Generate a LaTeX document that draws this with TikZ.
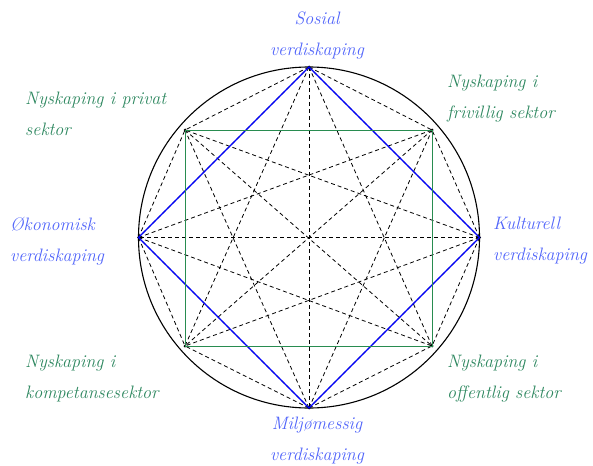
\documentclass[tikz,border=0pt]{standalone}
\usetikzlibrary{positioning}
\definecolor{verdiblue}{RGB}{80,100,250}
\definecolor{sektorgreen}{RGB}{45,135,95}
\definecolor{rammegreen}{RGB}{40,140,80}
\tikzstyle{verdi} = [text=verdiblue, font=\fontsize{18}{31}\selectfont\itshape, align=center, inner sep=0pt]
\tikzstyle{sektor} = [text=sektorgreen, font=\fontsize{18}{31}\selectfont\itshape, align=left, inner sep=0pt]
\tikzstyle{pkt} = [circle, fill=black, inner sep=0pt, minimum size=3pt]
\tikzstyle{link} = [dash pattern=on 4pt off 3pt, line width=0.8pt]

\begin{document}
\begin{tikzpicture}[x=1pt,y=-1pt]
\useasboundingbox (0,0) rectangle (593,465);

\draw [line width=1.1pt] (309,237.5) circle (170.5);

% points
\node (sos) [pkt] at (309,67) {};
\node (kul) [pkt] at (479.5,237.5) {};
\node (mil) [pkt] at (309,408) {};
\node (oko) [pkt] at (138.5,237.5) {};
\node (fri) [pkt] at (432,130) {};
\node (pri) [pkt] at (185,130) {};
\node (kom) [pkt] at (185,346) {};
\node (off) [pkt] at (432,346) {};

% all pairs dashed
\foreach \a/\b in {sos/kul,sos/mil,sos/oko,sos/fri,sos/pri,sos/kom,sos/off,
  kul/mil,kul/oko,kul/fri,kul/pri,kul/kom,kul/off,
  mil/oko,mil/fri,mil/pri,mil/kom,mil/off,
  oko/fri,oko/pri,oko/kom,oko/off,
  fri/pri,fri/kom,fri/off,
  pri/kom,pri/off,
  kom/off}
  \draw [link] (\a.center) -- (\b.center);

\draw [blue, line width=1.1pt] (sos.center) -- (kul.center) -- (mil.center) -- (oko.center) -- cycle;
\draw [rammegreen, line width=0.9pt] (pri.center) -- (fri.center) -- (off.center) -- (kom.center) -- cycle;

% labels
\node (lsos) [verdi, anchor=north] at (317,12) {Sosial\\verdiskaping};
\node (lmil) [verdi, anchor=north] at (317,417) {Miljømessig\\verdiskaping};
\node (loko) [verdi, anchor=north west, align=left] at (10,217) {Økonomisk\\verdiskaping};
\node (lkul) [verdi, anchor=north west, align=left] at (493,217) {Kulturell\\verdiskaping};
\node (lpri) [sektor, anchor=north west] at (25,92) {Nyskaping i privat\\sektor};
\node (lfri) [sektor, anchor=north west] at (447,75) {Nyskaping i\\frivillig sektor};
\node (lkom) [sektor, anchor=north west] at (25,355) {Nyskaping i\\kompetansesektor};
\node (loff) [sektor, anchor=north west] at (447,355) {Nyskaping i\\offentlig sektor};

\end{tikzpicture}
\end{document}
